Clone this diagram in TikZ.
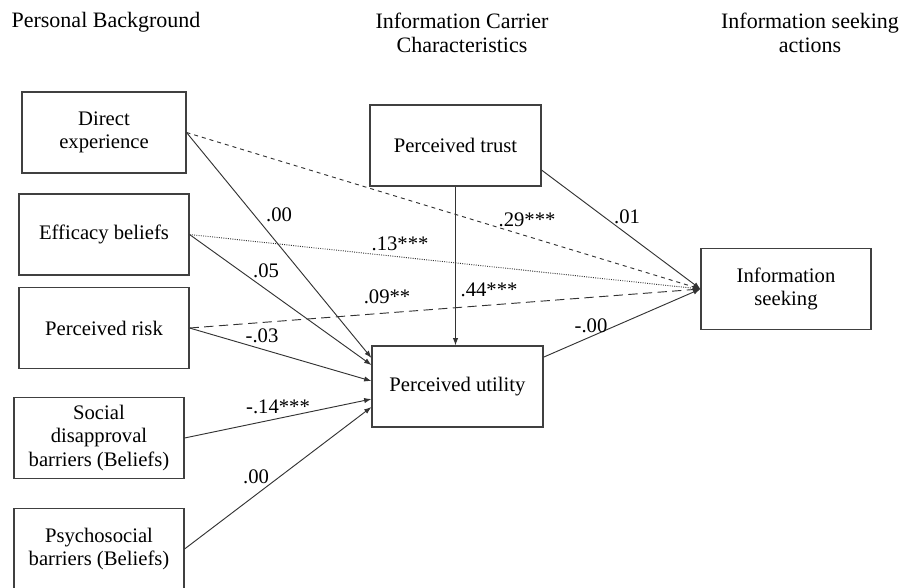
\documentclass[tikz,border=0pt]{standalone}
\usepackage{fontspec}
\setmainfont{Liberation Serif}
\usetikzlibrary{arrows.meta}

\begin{document}
\begin{tikzpicture}[x=0.75pt,y=-0.75pt,
 box/.style={rectangle,draw=black!75,line width=0.8pt,minimum width=127.5pt,minimum height=60.75pt,align=center,font=\fontsize{15.5}{17.5}\selectfont},
 head/.style={align=center,font=\fontsize{16.5}{17.5}\selectfont},
 lbl/.style={inner sep=0pt,font=\fontsize{15.5}{17}\selectfont},
 link/.style={draw=black!80,line width=0.7pt,-{Latex[length=5.5pt,width=4pt]}}]
\useasboundingbox (0,0) rectangle (902,587);
\node [head] (pb) at (106,22) {Personal Background};
\node [head] (icc) at (462,33) {Information Carrier\\Characteristics};
\node [head] (isa) at (810,33) {Information seeking\\actions};

\node [box,minimum width=123pt] (dir) at (104,132.5) {Direct\\experience};
\node [box] (eff) at (104,234.5) {Efficacy beliefs};
\node [box] (risk) at (104,328) {Perceived risk};
\node [box] (soc) at (99,438) {Social\\disapproval\\barriers (Beliefs)};
\node [box] (psy) at (99,549) {Psychosocial\\barriers (Beliefs)};
\node [box,minimum width=128.25pt] (trust) at (455.5,145.5) {Perceived trust};
\node [box,minimum width=128.25pt] (util) at (457.5,386.5) {Perceived utility};
\node [box] (info) at (786,289) {Information\\seeking};

\draw [link] (dir.east) -- ([yshift=21.4pt]util.west);
\draw [link] (eff.east) -- ([yshift=16.1pt]util.west);
\draw [link] (risk.east) -- ([yshift=4.1pt]util.west);
\draw [link] (soc.east) -- ([yshift=-9.4pt]util.west);
\draw [link] (psy.east) -- ([yshift=-15.4pt]util.west);
\draw [link,dashed] (dir.east) -- (info.west);
\draw [link,densely dotted] (eff.east) -- (info.west);
\draw [link,dash pattern=on 7pt off 4pt] (risk.east) -- (info.west);
\draw [link] ([yshift=-18.4pt]trust.east) -- (info.west);
\draw [link] ([yshift=22pt]util.east) -- (info.west);
\draw [link] (trust.south) -- (trust.south |- util.north);

\node [lbl] (l1) at (279,215) {.00};
\node [lbl] (l2) at (400,244) {.13***};
\node [lbl] (l3) at (266,271) {.05};
\node [lbl] (l4) at (387,297) {.09**};
\node [lbl] (l5) at (262,336) {-.03};
\node [lbl] (l6) at (278,407) {-.14***};
\node [lbl] (l7) at (256,477) {.00};
\node [lbl] (l8) at (527,220) {.29***};
\node [lbl] (l9) at (627,217) {.01};
\node [lbl] (l10) at (489,290) {.44***};
\node [lbl] (l11) at (591,326) {-.00};
\end{tikzpicture}
\end{document}
